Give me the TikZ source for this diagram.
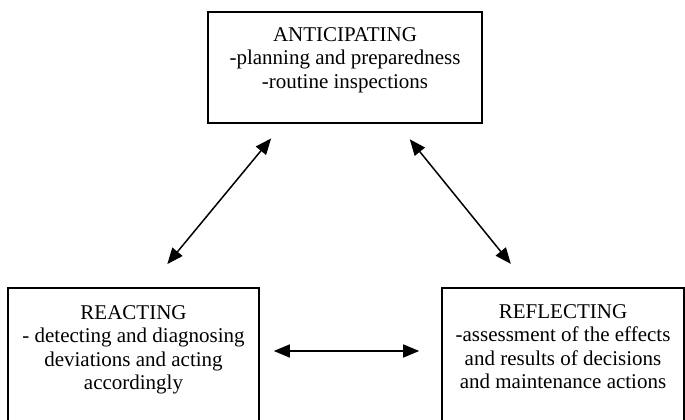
\documentclass[tikz,border=0pt]{standalone}
\usepackage{fontspec}
\setmainfont{Liberation Serif}
\usetikzlibrary{arrows.meta}

\begin{document}
\begin{tikzpicture}[x=1pt,y=1pt,
  box/.style={draw,line width=1.6pt,inner sep=0pt},
  boxtext/.style={anchor=north,align=center,inner sep=0pt,
    font=\fontsize{21}{23.5}\selectfont},
  twoway/.style={line width=1.5pt,{Triangle[length=16pt,width=13pt]}-{Triangle[length=16pt,width=13pt]}}]

\useasboundingbox (0,0) rectangle (685,420);
\clip (0,0) rectangle (685,420);

% the three boxes
\node[box,minimum width=274pt,minimum height=111pt] (antic) at (345,352.5) {};
\node[box,minimum width=251pt,minimum height=144pt] (react) at (133.5,60) {};
\node[box,minimum width=242pt,minimum height=144pt] (reflect) at (563,60) {};

\node[boxtext] (antictext) at ([yshift=-16pt]antic.north)
  {ANTICIPATING\\-planning and preparedness\\-routine inspections};
\node[boxtext] (reacttext) at ([yshift=-18pt]react.north)
  {REACTING\\- detecting and diagnosing\\deviations and acting\\accordingly};
\node[boxtext] (reflecttext) at ([yshift=-17pt]reflect.north)
  {REFLECTING\\-assessment of the effects\\and results of decisions\\and maintenance actions};

% arrows between the boxes
\draw[twoway,shorten <=19pt,shorten >=30pt]
  ([xshift=76pt]antic.south west) -- ([xshift=141pt]react.north west);
\draw[twoway,shorten <=20pt,shorten >=30pt]
  ([xshift=190pt]antic.south west) -- ([xshift=88.5pt]reflect.north west);
\draw[twoway,shorten <=14pt,shorten >=22pt]
  ([yshift=9pt]react.east) -- ([yshift=9pt]reflect.west);

\end{tikzpicture}
\end{document}
